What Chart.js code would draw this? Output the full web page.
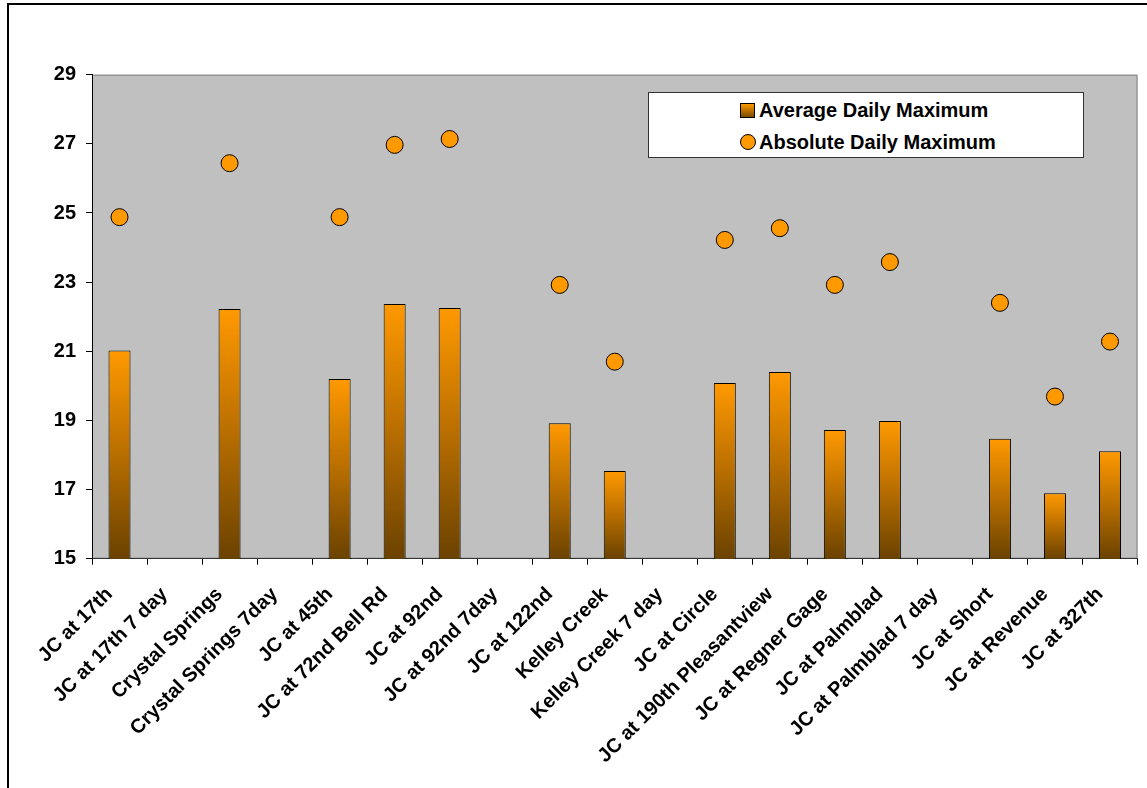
<!DOCTYPE html>
<html>
<head>
<meta charset="utf-8">
<script src="https://cdn.jsdelivr.net/npm/chart.js@4"></script>
<style>
  html, body { margin: 0; padding: 0; background: #fff; overflow: hidden; }
  #wrap { position: relative; width: 1147px; height: 788px; }
  #frame { position: absolute; left: 7px; top: 3px; width: 1160px; height: 800px; border: 2px solid #000; box-sizing: border-box; pointer-events: none; }
  canvas { position: absolute; left: 0; top: 0; }
  #legend { position: absolute; left: 648px; top: 92px; width: 436px; height: 66px; box-sizing: border-box;
            background: #fff; border: 1px solid #333; font-family: 'Liberation Sans', Arial, sans-serif; font-weight: bold; font-size: 20px; color: #000; }
  .item { position: absolute; left: 91px; height: 24px; line-height: 24px; white-space: nowrap; }
  .item span.txt { position: absolute; left: 19px; top: 0; }
  .sq { position: absolute; left: 0; top: 5px; width: 13px; height: 13px; border: 1px solid #000; background: linear-gradient(#FF9900, #7A4A00); }
  .ci { position: absolute; left: 0; top: 4px; width: 14px; height: 14px; border: 1px solid #000; border-radius: 50%; background: #FF9900; }
</style>
</head>
<body>
<div id="wrap">
  <canvas id="c" width="1147" height="788"></canvas>
  <div id="frame"></div>
  <div id="legend">
    <div class="item" style="top:5px"><div class="sq"></div><span class="txt">Average Daily Maximum</span></div>
    <div class="item" style="top:37px"><div class="ci"></div><span class="txt">Absolute Daily Maximum</span></div>
  </div>
</div>
<script>
const categories = [
  'JC at 17th', 'JC at 17th 7 day', 'Crystal Springs', 'Crystal Springs 7day', 'JC at 45th',
  'JC at 72nd Bell Rd', 'JC at 92nd', 'JC at 92nd 7day', 'JC at 122nd', 'Kelley Creek',
  'Kelley Creek 7 day', 'JC at Circle', 'JC at 190th Pleasantview', 'JC at Regner Gage',
  'JC at Palmblad', 'JC at Palmblad 7 day', 'JC at Short', 'JC at Revenue', 'JC at 327th'
];
const averageDailyMax = [
  21.02, null, 22.22, null, 20.20, 22.37, 22.25, null, 18.92, 17.54,
  null, 20.08, 20.40, 18.72, 18.98, null, 18.47, 16.89, 18.11
];
const absoluteDailyMax = [
  24.88, null, 26.44, null, 24.88, 26.97, 27.14, null, 22.92, 20.70,
  null, 24.22, 24.56, 22.92, 23.58, null, 22.40, 19.69, 21.28
];
const yTicks = { min: 15, max: 29, step: 2 };
const seriesNames = ['Average Daily Maximum', 'Absolute Daily Maximum'];

const FONT = "'Liberation Sans', Arial, sans-serif";

const plotBg = {
  id: 'plotBg',
  beforeDraw(chart) {
    const { ctx, chartArea: a } = chart;
    ctx.save();
    ctx.fillStyle = '#C0C0C0';
    ctx.fillRect(a.left, a.top, a.right - a.left, a.bottom - a.top);
    ctx.strokeStyle = '#808080';
    ctx.lineWidth = 1;
    ctx.strokeRect(a.left + 0.5, a.top + 0.5, a.right - a.left - 1, a.bottom - a.top - 1);
    ctx.restore();
  }
};

function barGradient(c) {
  const chart = c.chart;
  const ys = chart.scales && chart.scales.y;
  if (!ys || c.raw == null) return '#FF9900';
  const top = ys.getPixelForValue(c.raw);
  const bot = ys.getPixelForValue(ys.min);
  if (!isFinite(top) || !isFinite(bot) || bot <= top) return '#FF9900';
  const g = chart.ctx.createLinearGradient(0, top, 0, bot);
  g.addColorStop(0, '#FF9900');
  g.addColorStop(0.5, '#B86E00');
  g.addColorStop(1, '#6B4200');
  return g;
}

new Chart(document.getElementById('c'), {
  type: 'bar',
  data: {
    labels: categories,
    datasets: [
      {
        label: seriesNames[0],
        data: averageDailyMax,
        backgroundColor: barGradient,
        borderColor: '#000',
        borderWidth: 1,
        categoryPercentage: 1.0,
        barPercentage: 0.4,
        order: 1
      },
      {
        type: 'line',
        label: seriesNames[1],
        data: absoluteDailyMax,
        showLine: false,
        pointRadius: 8.5,
        pointHoverRadius: 8.5,
        pointBackgroundColor: '#FF9900',
        pointBorderColor: '#000',
        pointBorderWidth: 1,
        order: 0
      }
    ]
  },
  options: {
    responsive: false,
    animation: false,
    devicePixelRatio: 1,
    layout: { padding: { top: 74.7, right: 9, bottom: 0, left: 0 } },
    plugins: { legend: { display: false }, tooltip: { enabled: false }, title: { display: false } },
    scales: {
      x: {
        offset: true,
        grid: { offset: true, drawOnChartArea: false, drawTicks: true, tickLength: 6, color: '#000' },
        border: { display: true, color: '#333', width: 1 },
        ticks: {
          autoSkip: false, minRotation: 45, maxRotation: 45, padding: 18, labelOffset: -10,
          color: '#000', font: { family: FONT, size: 20, weight: 'bold' }
        },
        afterFit(s) { s.height = 229.3; }
      },
      y: {
        min: yTicks.min, max: yTicks.max,
        grid: { drawOnChartArea: false, drawTicks: true, tickLength: 6, color: '#000' },
        border: { display: true, color: '#000', width: 1 },
        ticks: {
          stepSize: yTicks.step, padding: 10, color: '#000',
          font: { family: FONT, size: 20, weight: 'bold' }
        },
        afterFit(s) { s.width = 92; }
      }
    }
  },
  plugins: [plotBg]
});
</script>
</body>
</html>
